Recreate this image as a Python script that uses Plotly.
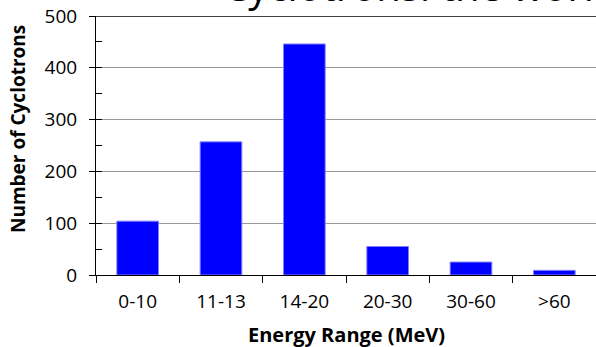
import plotly.graph_objects as go

# Installed cyclotrons grouped by beam energy
energy_ranges = ["0-10", "11-13", "14-20", "20-30", "30-60", ">60"]
cyclotron_counts = [104, 257, 446, 55, 25, 9]

y_ticks = [0, 100, 200, 300, 400, 500]

FONT = "Open Sans"

fig = go.Figure()
fig.add_trace(go.Bar(
    x=energy_ranges,
    y=cyclotron_counts,
    marker=dict(color="#0000FF", line=dict(color="#8080FF", width=1)),
    showlegend=False,
))

# invisible overlay axis supplying the short inside ticks every 50
fig.add_trace(go.Scatter(x=[None], y=[None], yaxis="y2", showlegend=False))

fig.update_layout(
    width=596,
    height=347,
    margin=dict(l=96, r=0, t=16, b=72),
    paper_bgcolor="white",
    plot_bgcolor="white",
    bargap=0.5,
    font=dict(family=FONT, color="black"),
    xaxis=dict(
        type="category",
        tickson="boundaries",
        ticks="outside",
        ticklen=7,
        tickcolor="black",
        showline=True,
        linecolor="black",
        linewidth=1,
        showgrid=False,
        tickfont=dict(size=19, family=FONT, color="black"),
        ticklabelstandoff=9,
    ),
    yaxis=dict(
        range=[0, 500],
        tickvals=y_ticks,
        ticks="outside",
        ticklen=6,
        tickcolor="black",
        showline=True,
        linecolor="black",
        linewidth=1,
        showgrid=True,
        gridcolor="#999999",
        gridwidth=1,
        zeroline=False,
        tickfont=dict(size=19, family=FONT, color="black"),
        ticklabelstandoff=8,
    ),
    yaxis2=dict(
        overlaying="y",
        side="left",
        range=[0, 500],
        dtick=50,
        tick0=0,
        ticks="inside",
        ticklen=6,
        tickcolor="black",
        showticklabels=False,
        showgrid=False,
        zeroline=False,
        showline=False,
    ),
)

# dark top border at 500
fig.add_shape(type="line", xref="paper", yref="y", x0=0, x1=1, y0=500, y1=500,
              line=dict(color="black", width=1.5))

fig.add_annotation(
    text="Number of Cyclotrons", xref="paper", yref="paper",
    x=(18 - 96) / 500, y=(275 - 129) / 259, textangle=-90,
    showarrow=False, xanchor="center", yanchor="middle",
    font=dict(size=19, family=FONT, color="black", weight="bold"),
)
fig.add_annotation(
    text="Energy Range (MeV)", xref="paper", yref="paper",
    x=0.5, y=-(334 - 275) / 259,
    showarrow=False, xanchor="center", yanchor="middle",
    font=dict(size=20, family=FONT, color="black", weight="bold"),
)
fig.add_annotation(
    text="Cyclotrons: the world", xref="paper", yref="paper",
    x=(222 - 96) / 500, y=1 + (16 - 14) / 259,
    showarrow=False, xanchor="left", yanchor="bottom", borderpad=0,
    font=dict(size=40, family=FONT, color="black"),
)

fig.write_html("out.html")
